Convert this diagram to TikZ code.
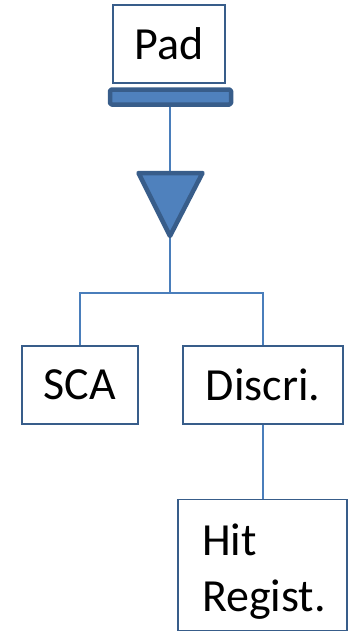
\documentclass[tikz,border=0pt]{standalone}
\usepackage{fontspec}
\setmainfont{Carlito}
\definecolor{boxline}{RGB}{56,93,138}
\definecolor{conn}{RGB}{74,126,187}
\definecolor{accent}{RGB}{79,129,189}
\begin{document}
\begin{tikzpicture}[x=1pt,y=-1pt,
  box/.style={draw=boxline,line width=1.6pt,fill=white,inner sep=0pt,font=\fontsize{46}{56}\selectfont},
  wire/.style={draw=conn,line width=1.8pt},
  accentshape/.style={draw=boxline,fill=accent,line width=4.5pt,line join=round}]
\useasboundingbox (0,0) rectangle (351,634);
\node[box,minimum width=112pt,minimum height=78pt] (pad) at (169,44) {Pad};
\node[accentshape,rounded corners=1.5pt,minimum width=121pt,minimum height=15pt,inner sep=0pt] (bar) at (170.5,97) {};
\coordinate (tl) at (138.5,173);
\coordinate (tr) at (202.5,173);
\coordinate (apex) at (170,236);
\coordinate (trtop) at (170,173);
\coordinate (split) at (170,293);
\node[box,minimum width=116pt,minimum height=78pt] (sca) at (80,385) {SCA};
\node[box,minimum width=160pt,minimum height=78pt] (discri) at (263,385) {Discri.};
\draw[wire] (bar.south -| trtop) -- (trtop);
\draw[wire] (apex) -- (split);
\draw[wire] (split) -- (split -| sca.north) -- (sca.north);
\draw[wire] (split) -- (split -| discri.north) -- (discri.north);
\node[box,minimum width=169pt,minimum height=131pt,text width=121pt,inner xsep=24pt,align=left] (hit) at (262.5,565) {\rule{0pt}{44pt}Hit\\Regist.};
\draw[wire] (discri.south) -- (hit.north -| discri.south);
\draw[accentshape] (tl) -- (tr) -- (apex) -- cycle;
\end{tikzpicture}
\end{document}
